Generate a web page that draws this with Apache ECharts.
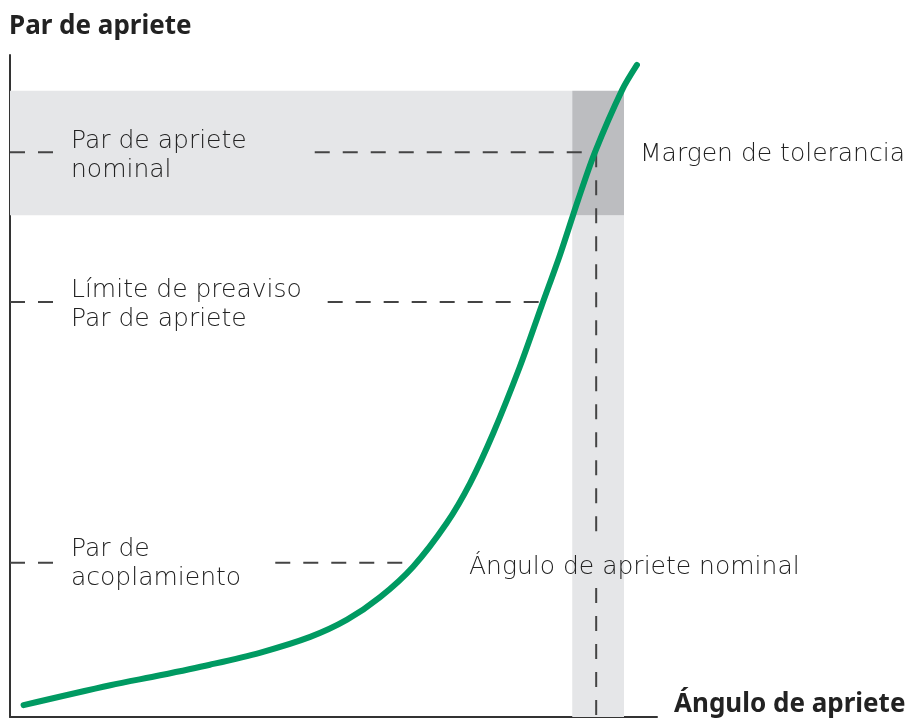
<!DOCTYPE html>
<html>
<head>
<meta charset="utf-8">
<script src="https://cdn.jsdelivr.net/npm/echarts@6/dist/echarts.min.js"></script>
<style>
  html, body { margin: 0; padding: 0; background: #fff; }
  #chart { width: 915px; height: 718px; }
</style>
</head>
<body>
<div id="chart"></div>
<script>
// curva de apriete (ángulo 0-100, par 0-100)
const angle = [2.1, 15.5, 23.2, 30.9, 38.6, 46.4, 52.1, 57.2, 62.3, 67.5, 71.1, 74.7, 78.8, 82.2, 85.0, 87.8, 90.4, 94.6, 96.9];
const torque = [1.8, 4.8, 6.3, 7.9, 9.7, 12.1, 14.7, 18.1, 22.7, 29.3, 35.3, 42.9, 52.9, 62.2, 69.8, 78.1, 85.3, 94.7, 98.5];

// niveles de referencia
const nominalTorque = 85.3;
const warningTorque = 62.7;
const couplingTorque = 23.3;
const nominalAngle = 90.6;
const torqueBand = [75.8, 94.6];   // margen de tolerancia (par)
const angleBand = [86.9, 94.9];    // margen de tolerancia (ángulo)

// tramos discontinuos [desde, hasta]
const leftStub = [0, 6.96];
const nominalRight = [47.1, nominalAngle];
const warningRight = [49.1, 81.9];
const couplingRight = [41.0, 62.6];
const angleSegments = [[nominalTorque, 27.0], [19.5, 0]];

const chart = echarts.init(document.getElementById('chart'));

const dashStyle = { color: '#444', width: 2, type: [15, 13] };
const hLine = (y, span) => ({
  type: 'line', silent: true, symbol: 'none', z: 3,
  lineStyle: dashStyle,
  data: [[span[0], y], [span[1], y]]
});
const vLine = (x, span) => ({
  type: 'line', silent: true, symbol: 'none', z: 3,
  lineStyle: dashStyle,
  data: [[x, span[0]], [x, span[1]]]
});

const txt = { fill: '#222', fontSize: 25, fontFamily: 'DejaVu Sans', fontWeight: 200, lineHeight: 29 };
const label = (left, top, text) => ({ type: 'text', left: left, top: top, z: 100, style: Object.assign({ text: text }, txt) });

chart.setOption({
  animation: false,
  grid: { left: 10, right: 258, top: 55, bottom: 1 },
  xAxis: {
    type: 'value', min: 0, max: 100,
    axisLine: { lineStyle: { color: '#333', width: 2 } },
    axisTick: { show: false }, axisLabel: { show: false }, splitLine: { show: false }
  },
  yAxis: {
    type: 'value', min: 0, max: 100,
    axisLine: { show: true, lineStyle: { color: '#333', width: 2 } },
    axisTick: { show: false }, axisLabel: { show: false }, splitLine: { show: false }
  },
  title: {
    text: 'Par de apriete', left: 4, top: 9,
    textStyle: { fontFamily: 'Noto Sans', fontWeight: 'bold', fontSize: 26, color: '#222' }
  },
  graphic: [
    label(71, 127, 'Par de apriete\nnominal'),
    label(71, 276, 'Límite de preaviso\nPar de apriete'),
    label(71, 535, 'Par de\nacoplamiento'),
    label(640, 140, 'Margen de tolerancia'),
    label(469, 553, 'Ángulo de apriete nominal'),
    { type: 'text', left: 674, top: 692, z: 100, style: { text: 'Ángulo de apriete', fill: '#222', fontSize: 26, fontFamily: 'Noto Sans', fontWeight: 'bold' } }
  ],
  series: [
    {
      type: 'line', name: 'bandas', silent: true, symbol: 'none', data: [], z: 1,
      markArea: {
        silent: true,
        data: [
          [{ coord: [0, torqueBand[0]], itemStyle: { color: '#e5e6e8' } }, { coord: [angleBand[0], torqueBand[1]] }],
          [{ coord: [angleBand[0], 0], itemStyle: { color: '#e5e6e8' } }, { coord: [angleBand[1], torqueBand[0]] }],
          [{ coord: [angleBand[0], torqueBand[0]], itemStyle: { color: '#bcbdc0' } }, { coord: [angleBand[1], torqueBand[1]] }]
        ]
      }
    },
    hLine(nominalTorque, leftStub),
    hLine(nominalTorque, nominalRight),
    hLine(warningTorque, leftStub),
    hLine(warningTorque, warningRight),
    hLine(couplingTorque, leftStub),
    hLine(couplingTorque, couplingRight),
    vLine(nominalAngle, angleSegments[0]),
    vLine(nominalAngle, angleSegments[1]),
    {
      type: 'line', name: 'curva', smooth: 0.3, symbol: 'none', z: 5,
      lineStyle: { color: '#009a62', width: 6, cap: 'round' },
      data: angle.map((a, i) => [a, torque[i]])
    }
  ]
});
</script>
</body>
</html>
